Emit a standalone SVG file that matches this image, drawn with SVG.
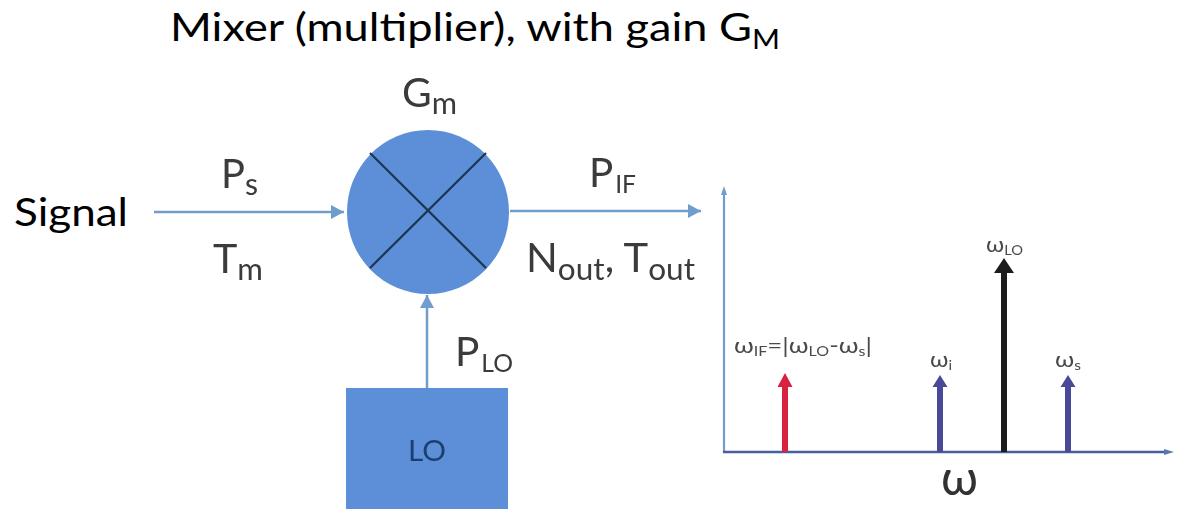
<svg xmlns="http://www.w3.org/2000/svg" width="1178" height="514" viewBox="0 0 1178 514">
<style>
text{font-family:"Lato","Liberation Sans",sans-serif}
.t{font-size:39px;fill:#000}
.ts{font-size:26px}
.l{font-size:41px;fill:#3a3a3a}
.s{font-size:31px}
.u{font-size:25px}
.w{font-size:21px;fill:#4a4a4a}
.ws{font-size:13px}
.c{stroke:#6f9dcc;stroke-width:2.5;fill:none}
.x{stroke:#1f3550;stroke-width:2.2}
.b{fill:#5b8fd8}
</style>
<defs>
<filter id="soft" x="-5%" y="-5%" width="110%" height="110%"><feGaussianBlur stdDeviation="0.6"/></filter>
<marker id="a" markerUnits="userSpaceOnUse" markerWidth="14" markerHeight="16" refX="13" refY="8" orient="auto"><path d="M0 1L13 8L0 15z" fill="#6f9dcc"/></marker>
</defs>
<rect width="1178" height="514" fill="#fff"/>
<g filter="url(#soft)">
<g id="connectors">
<line class="c" x1="154" y1="212" x2="344" y2="212" marker-end="url(#a)"/>
<line class="c" x1="510" y1="211" x2="701" y2="211" marker-end="url(#a)"/>
<line class="c" x1="427" y1="388" x2="427" y2="295" marker-end="url(#a)"/>
</g>
<g id="mixer">
<ellipse class="b" cx="428" cy="212" rx="81" ry="82"/>
<line class="x" x1="370" y1="153" x2="486" y2="268"/>
<line class="x" x1="486" y1="153" x2="370" y2="268"/>
</g>
<g id="lo">
<rect class="b" x="346" y="388" width="162" height="121"/>
<text x="408" y="461" font-size="28" fill="#1f3f6e" textLength="38" lengthAdjust="spacingAndGlyphs">LO</text>
</g>
<g id="labels">
<text class="l" x="402" y="107" textLength="55" lengthAdjust="spacingAndGlyphs">G<tspan class="s" dy="7">m</tspan></text>
<text class="l" x="221" y="188" textLength="37" lengthAdjust="spacingAndGlyphs">P<tspan class="s" dy="7">s</tspan></text>
<text class="l" x="213" y="273" textLength="50" lengthAdjust="spacingAndGlyphs">T<tspan class="s" dy="7">m</tspan></text>
<text class="l" x="589" y="187" textLength="47" lengthAdjust="spacingAndGlyphs">P<tspan class="u" dy="6" dx="2">IF</tspan></text>
<text class="l" x="526" y="272" textLength="169" lengthAdjust="spacingAndGlyphs">N<tspan class="s" dy="8">out</tspan><tspan dy="-8">, T</tspan><tspan class="s" dy="8">out</tspan></text>
<text class="l" x="455" y="366" textLength="58" lengthAdjust="spacingAndGlyphs">P<tspan class="u" dy="6" dx="2">LO</tspan></text>
</g>
<g id="spectrum">
<line x1="724" y1="452" x2="724" y2="190" stroke="#6f9dcc" stroke-width="2.2"/>
<path d="M724 186l-3 9h6z" fill="#6f9dcc"/>
<line x1="723" y1="452" x2="1168" y2="452" stroke="#4a5f9c" stroke-width="2.5"/>
<path d="M1174 452l-10-3v6z" fill="#5a78ae"/>
<path d="M782 452V387h-4.500L785 373l7.500 14H788V452z" fill="#d9213f"/>
<path d="M937 452V387h-4.500L940 375l7.500 12H943V452z" fill="#48489a"/>
<path d="M1001 452V273h-7L1004 258l10 15h-7V452z" fill="#1c1c1e"/>
<path d="M1065 452V387h-4.500L1068 375l7.500 12H1071V452z" fill="#48489a"/>
<text class="w" x="734" y="353" textLength="138" lengthAdjust="spacingAndGlyphs">ω<tspan class="ws" dy="3">IF</tspan><tspan dy="-3">=|ω</tspan><tspan class="ws" dy="3">LO</tspan><tspan dy="-3">-ω</tspan><tspan class="ws" dy="3">s</tspan><tspan dy="-3">|</tspan></text>
<text class="w" x="930" y="367" textLength="22" lengthAdjust="spacingAndGlyphs">ω<tspan class="ws" dy="3">i</tspan></text>
<text class="w" x="1055" y="367" textLength="26" lengthAdjust="spacingAndGlyphs">ω<tspan class="ws" dy="3">s</tspan></text>
<text class="w" x="986" y="252" textLength="37" lengthAdjust="spacingAndGlyphs">ω<tspan class="ws" dy="3">LO</tspan></text>
<text x="941" y="495" font-size="50" fill="#333" textLength="37" lengthAdjust="spacingAndGlyphs">ω</text>
</g>
</g>
<g id="annotations">
<text class="t" x="170" y="41" textLength="610" lengthAdjust="spacingAndGlyphs">Mixer (multiplier), with gain G<tspan class="ts" dy="8">M</tspan></text>
<text class="t" x="14" y="226" textLength="114" lengthAdjust="spacingAndGlyphs">Signal</text>
</g>
</svg>
